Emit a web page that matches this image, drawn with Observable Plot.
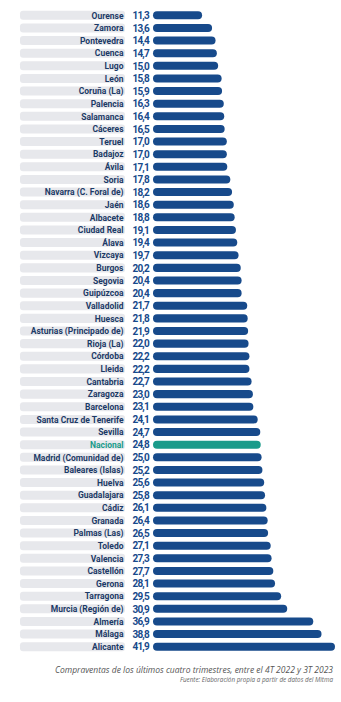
<!DOCTYPE html>
<html><head><meta charset="utf-8">
<script src="https://cdn.jsdelivr.net/npm/d3@7"></script>
<script src="https://cdn.jsdelivr.net/npm/@observablehq/plot@0.6"></script>
<style>
body{margin:0;background:#fff;width:341px;overflow:hidden;}
#cap{font-family:"Open Sans",sans-serif;font-style:italic;color:#555;text-align:right;padding-right:8px;}
#cap .t{font-size:8.5px;line-height:11px;margin-top:4px;}
#cap .s{font-size:6.3px;line-height:9px;color:#666;}
.vals text{letter-spacing:-0.8px;}
</style></head><body>
<div id="chart"></div>
<div id="cap"><div class="t">Compraventas de los últimos cuatro trimestres, entre el 4T 2022 y 3T 2023</div><div class="s">Fuente: Elaboración propia a partir de datos del Mitma</div></div>
<script>
const provincias = ["Ourense","Zamora","Pontevedra","Cuenca","Lugo","León","Coruña (La)","Palencia","Salamanca","Cáceres","Teruel","Badajoz","Ávila","Soria","Navarra (C. Foral de)","Jaén","Albacete","Ciudad Real","Álava","Vizcaya","Burgos","Segovia","Guipúzcoa","Valladolid","Huesca","Asturias (Principado de)","Rioja (La)","Córdoba","Lleida","Cantabria","Zaragoza","Barcelona","Santa Cruz de Tenerife","Sevilla","Nacional","Madrid (Comunidad de)","Baleares (Islas)","Huelva","Guadalajara","Cádiz","Granada","Palmas (Las)","Toledo","Valencia","Castellón","Gerona","Tarragona","Murcia (Región de)","Almería","Málaga","Alicante"];
const valores = [11.3,13.6,14.4,14.7,15.0,15.8,15.9,16.3,16.4,16.5,17.0,17.0,17.1,17.8,18.2,18.6,18.8,19.1,19.4,19.7,20.2,20.4,20.4,21.7,21.8,21.9,22.0,22.2,22.2,22.7,23.0,23.1,24.1,24.7,24.8,25.0,25.2,25.6,25.8,26.1,26.4,26.5,27.1,27.3,27.7,28.1,29.5,30.9,36.9,38.8,41.9];
const destacado = "Nacional";

const data = provincias.map((p,i)=>({p, v: valores[i], nac: p===destacado}));
const fmt = v => v.toFixed(1).replace(".", ",");
const NAVY = "#174a8b", TEAL = "#1a9b8a", LABEL = "#1c3a66";
const font = "'Liberation Sans Narrow','Roboto',sans-serif";

const chart = Plot.plot({
  width: 341, height: 660,
  marginLeft: 153, marginRight: 6, marginTop: 9, marginBottom: 7,
  x: {domain: [0, 41.9], axis: null},
  y: {domain: provincias, axis: null, padding: 0},
  style: {fontFamily: font},
  marks: [
    Plot.barX(data, {y: "p", x1: 0, x2: 0, insetLeft: -133, insetRight: 28, insetTop: 1.8, insetBottom: 1.8, fill: "#e7e8ec", rx: 3}),
    Plot.barX(data, {y: "p", x: "v", fill: d => d.nac ? TEAL : NAVY, insetTop: 2.3, insetBottom: 2.3, rx: 4}),
    Plot.text(data, {y: "p", x: 0, text: "p", textAnchor: "end", dx: -30, fill: d => d.nac ? TEAL : LABEL, fontWeight: "bold", fontSize: 8.5}),
    Plot.text(data, {y: "p", x: 0, text: d => fmt(d.v), textAnchor: "start", dx: -21, fill: NAVY, fontWeight: "bold", fontSize: 10, className: "vals"})
  ]
});
document.getElementById("chart").appendChild(chart);
</script>
</body></html>
